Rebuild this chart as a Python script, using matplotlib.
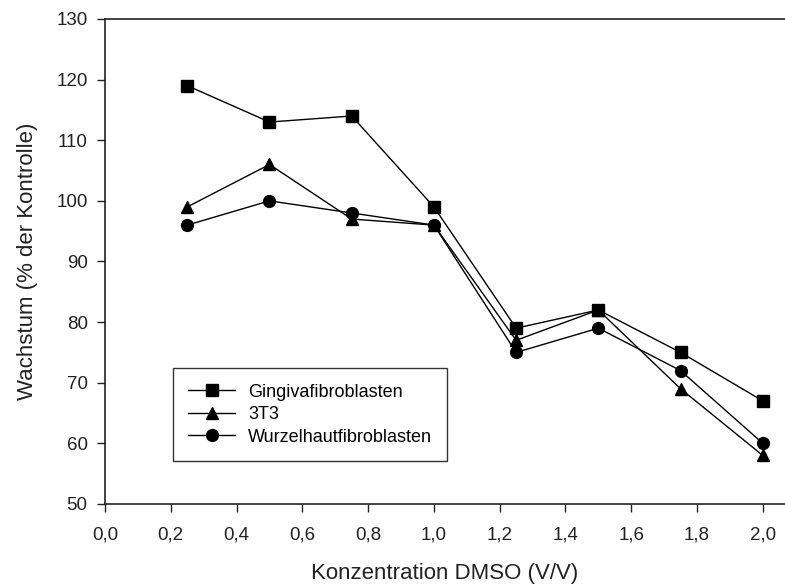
import matplotlib
matplotlib.use("Agg")
from matplotlib import pyplot as plt
from matplotlib.ticker import FuncFormatter
import numpy as np

# DMSO concentration (V/V) and growth relative to control (%)
konzentration = [0.25, 0.5, 0.75, 1.0, 1.25, 1.5, 1.75, 2.0]
gingiva = [119, 113, 114, 99, 79, 82, 75, 67]
t3t3 = [99, 106, 97, 96, 77, 82, 69, 58]
wurzelhaut = [96, 100, 98, 96, 75, 79, 72, 60]

x_ticks = np.arange(0, 2.01, 0.2)
y_ticks = np.arange(50, 131, 10)

plt.rcParams['font.family'] = ['Liberation Sans', 'DejaVu Sans']

fig = plt.figure(figsize=(7.85, 5.88), dpi=100)
ax = fig.add_axes([0.1338, 0.1429, 0.866, 0.8248])

ax.plot(konzentration, gingiva, color='black', lw=1, marker='s', ms=8,
        label='Gingivafibroblasten')
ax.plot(konzentration, t3t3, color='black', lw=1, marker='^', ms=8.5,
        label='3T3')
ax.plot(konzentration, wurzelhaut, color='black', lw=1, marker='o', ms=8.5,
        label='Wurzelhautfibroblasten')

ax.set_xlim(0, 2.067)
ax.set_ylim(50, 130)
ax.set_xticks(x_ticks)
ax.set_yticks(y_ticks)
ax.xaxis.set_major_formatter(FuncFormatter(lambda v, p: f"{v:.1f}".replace('.', ',')))

for side in ['left', 'bottom', 'top']:
    ax.spines[side].set_linewidth(1.2)
    ax.spines[side].set_color('#222222')
ax.spines['right'].set_visible(False)
ax.tick_params(direction='out', length=5.5, width=1, labelsize=13.5, colors='#222222')
ax.tick_params(axis='x', pad=11)
ax.tick_params(axis='y', pad=7)

ax.set_xlabel('Konzentration DMSO (V/V)', fontsize=16, labelpad=14, color='#222222')
ax.set_ylabel('Wachstum (% der Kontrolle)', fontsize=16, labelpad=13, color='#222222')

leg = ax.legend(loc='lower left', bbox_to_anchor=(0.1, 0.0887), borderaxespad=0,
                fontsize=13, frameon=True, fancybox=False, edgecolor='black',
                handlelength=2.6, handletextpad=0.7, borderpad=0.85,
                labelspacing=0.3)
leg.get_frame().set_linewidth(1)

fig.savefig('out.png', dpi=100)
